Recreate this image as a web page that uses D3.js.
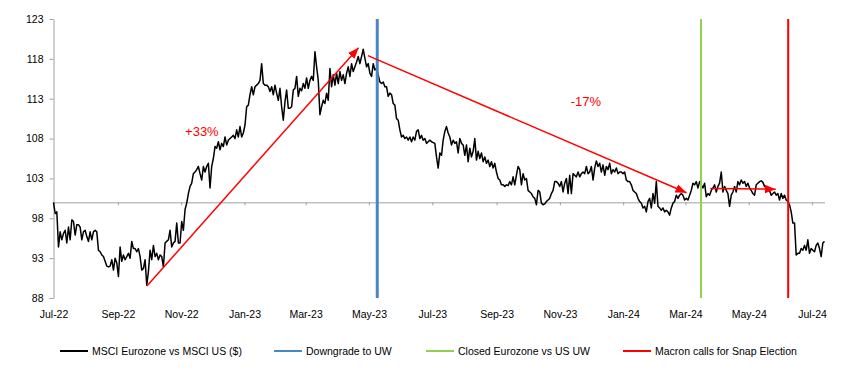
<!DOCTYPE html>
<html><head><meta charset="utf-8">
<script src="https://cdn.jsdelivr.net/npm/d3@7"></script>
<style>
body{margin:0;background:#fff;}
svg{display:block;font-family:"Liberation Sans",Arial,Helvetica,sans-serif;}
</style>
</head><body>
<svg id="chart" width="852" height="381"></svg>
<script>
// ---------------- DATA ----------------
const seriesName = "MSCI Eurozone vs MSCI US ($)";
const startDate = "2022-07-01";
const endDate = "2024-07-13";
const values = [
100.0,98.6,98.8,94.4,96.3,95.3,96.1,96.5,94.9,96.9,
95.3,97.8,97.6,95.9,97.2,97.2,96.9,95.3,96.3,96.5,
95.7,95.1,96.3,95.3,96.3,96.5,96.3,94.0,93.8,93.4,
93.2,92.6,92.0,91.9,92.0,92.8,91.5,93.0,92.4,90.7,
94.4,92.6,93.4,92.8,93.2,93.6,93.0,95.1,94.2,94.2,
93.8,94.2,93.2,91.5,91.7,92.8,89.6,91.3,94.0,92.8,
94.6,93.2,93.6,92.8,93.4,93.2,91.9,94.9,95.1,95.3,
96.5,94.4,94.9,95.1,97.4,94.9,94.9,97.6,96.5,99.1,
99.9,101.1,102.0,102.4,103.6,103.8,104.1,104.5,103.6,102.8,
104.5,103.8,104.5,104.9,101.8,104.5,105.5,107.0,106.8,107.6,
106.6,107.4,107.0,108.2,107.2,107.8,108.0,108.2,108.4,108.0,
109.1,108.2,109.5,108.2,108.7,109.7,112.0,112.2,113.5,114.5,
113.5,114.5,114.7,114.9,115.3,117.4,114.9,114.7,114.7,114.5,
113.9,114.5,113.5,114.7,113.7,112.8,114.3,112.0,110.3,112.6,
114.1,111.8,111.8,112.0,114.1,114.3,115.8,113.3,114.3,
114.0,114.9,114.3,115.6,114.3,115.3,115.8,115.3,118.9,117.0,
115.3,111.0,112.0,112.8,112.4,113.7,112.8,116.8,114.5,116.0,
114.7,116.2,114.9,116.4,115.3,116.0,114.9,116.2,117.0,115.8,
117.4,116.4,117.0,117.6,118.3,117.4,118.3,119.2,118.1,117.0,
117.4,116.2,115.8,117.4,116.6,116.8,116.0,115.1,114.9,115.1,
114.5,114.5,113.3,113.7,113.5,112.4,112.2,110.5,110.3,109.1,
108.2,108.4,108.0,108.2,107.8,108.2,107.6,108.2,107.8,108.9,
109.1,108.0,108.4,107.8,108.0,
107.4,107.6,107.8,107.6,107.5,107.4,105.7,104.3,106.2,105.9,
107.8,108.9,109.5,108.7,108.2,107.2,107.8,107.4,107.6,106.2,
108.0,107.4,107.2,105.9,107.2,105.1,106.8,105.7,106.4,108.0,
105.3,106.4,105.5,106.2,105.1,105.7,104.9,105.3,104.5,105.1,
104.3,104.9,103.8,103.0,102.8,102.2,102.2,102.0,102.2,102.1,
102.6,102.2,103.2,102.2,103.4,104.5,104.1,102.2,103.6,102.8,
103.0,101.5,101.3,101.1,100.7,100.5,99.7,101.5,101.3,99.9,
99.7,99.8,100.1,100.3,100.5,101.1,101.5,102.6,
102.6,102.4,102.0,102.6,101.3,102.4,103.0,101.1,103.4,101.1,
103.6,103.4,103.2,103.8,103.2,103.6,103.8,103.6,104.5,103.6,
103.8,104.5,102.8,104.3,105.2,104.5,104.9,103.8,104.7,103.4,
104.5,104.1,104.9,103.6,104.1,103.8,104.3,103.6,103.8,103.8,
103.6,103.8,102.8,102.6,102.6,102.2,101.5,101.3,101.1,100.5,
100.1,99.9,99.3,99.5,98.8,100.1,100.5,99.3,101.1,99.9,
102.6,99.5,99.3,99.0,99.3,98.8,99.0,98.8,98.4,99.3,
99.9,100.1,100.9,100.5,100.9,101.1,100.9,100.3,100.5,
100.3,100.9,101.5,102.4,102.2,102.6,101.8,102.6,102.2,101.8,
102.4,100.7,101.1,100.9,101.5,101.8,102.2,101.3,102.0,102.4,
103.8,101.3,102.0,101.5,101.1,99.5,100.9,101.3,102.0,101.3,
102.6,102.2,102.8,102.4,102.6,102.0,102.4,101.8,101.5,101.1,
100.9,102.2,102.4,102.6,102.7,102.5,102.0,101.8,101.8,101.5,
100.9,101.1,101.3,100.9,101.1,100.3,101.1,100.5,100.9,100.3,
100.1,99.7,98.8,97.4,97.4,93.4,93.6,93.6,94.2,94.0,
94.6,94.0,95.3,93.6,94.2,94.0,93.8,94.6,94.9,94.2,
93.2,94.9,95.1
];
const baseValue = 100;
const yTicks = [88, 93, 98, 103, 108, 113, 118, 123];
const xTickDates = ["2022-07-01","2022-09-01","2022-11-01","2023-01-01","2023-03-01","2023-05-01",
                    "2023-07-01","2023-09-01","2023-11-01","2024-01-01","2024-03-01","2024-05-01","2024-07-01"];
const eventLabels = ["Downgrade to UW", "Closed Eurozone vs US UW", "Macron calls for Snap Election"];
const eventDates = ["2023-05-09", "2024-03-16", "2024-06-08"];
const arrowStartDates = ["2022-09-29", "2023-04-30", "2024-03-25"];
const arrowStartValues = [89.5, 118.4, 101.75];
const arrowEndDates = ["2023-04-21", "2024-03-02", "2024-05-27"];
const arrowEndValues = [119.4, 101.2, 101.65];
const noteLabels = ["+33%", "-17%"];
const noteDates = ["2022-11-21", "2023-11-26"];
const noteValues = [108.9, 112.6];

// ---------------- DRAW ----------------
const parse = d3.timeParse("%Y-%m-%d");
const svg = d3.select("#chart");
const t0 = parse(startDate), t1 = parse(endDate);
const dates = values.map((v, i) => new Date(+t0 + i * (t1 - t0) / (values.length - 1)));
const series = values.map((v, i) => ({date: dates[i], value: v}));

const x = d3.scaleTime().domain([t0, t1]).range([53.5, 824.5]);
const y = d3.scaleLinear().domain([88, 123]).range([298, 19]);

const axisColor = "#a0a0a0";
const eventColors = ["#4a86c1", "#92d050", "#ff0000"];
const eventWidths = [3, 2, 2];
const red = "#ff0000";

// Y axis
const yAxis = svg.append("g").attr("transform", "translate(53.5,0)")
  .call(d3.axisLeft(y).tickValues(yTicks).tickSize(4).tickSizeOuter(0).tickPadding(6).tickFormat(d3.format("d")));
yAxis.select(".domain").attr("stroke", axisColor);
yAxis.selectAll(".tick line").attr("stroke", axisColor);
yAxis.selectAll("text").attr("font-size", 10.5).attr("fill", "#000").attr("font-family", "Liberation Sans, Arial, sans-serif");

// X axis line at base value
const xLine = svg.append("g").attr("transform", `translate(0,${y(baseValue)})`)
  .call(d3.axisBottom(x).tickValues(xTickDates.map(parse)).tickSize(3).tickSizeOuter(0).tickFormat(""));
xLine.select(".domain").attr("stroke", axisColor);
xLine.selectAll(".tick line").attr("stroke", axisColor);

// X labels at bottom
const xLab = svg.append("g").attr("transform", `translate(0,${y(88)})`)
  .call(d3.axisBottom(x).tickValues(xTickDates.map(parse)).tickSize(0).tickPadding(13).tickFormat(d3.timeFormat("%b-%y")));
xLab.select(".domain").remove();
xLab.selectAll("text").attr("font-size", 10.5).attr("fill", "#000").attr("font-family", "Liberation Sans, Arial, sans-serif");

// Series line
svg.append("path").datum(series)
  .attr("fill", "none").attr("stroke", "#000").attr("stroke-width", 1.5).attr("stroke-linejoin", "round")
  .attr("d", d3.line().x(d => x(d.date)).y(d => y(d.value)));

// Event vertical lines
svg.selectAll(".event").data(eventDates).enter().append("line")
  .attr("x1", d => x(parse(d))).attr("x2", d => x(parse(d)))
  .attr("y1", y(123)).attr("y2", y(88))
  .attr("stroke", (d, i) => eventColors[i]).attr("stroke-width", (d, i) => eventWidths[i]);

// Arrow marker
const defs = svg.append("defs");
defs.append("marker").attr("id", "arrowhead")
  .attr("viewBox", "0 0 10 8").attr("refX", 10).attr("refY", 4)
  .attr("markerWidth", 11).attr("markerHeight", 9).attr("markerUnits", "userSpaceOnUse")
  .attr("orient", "auto")
  .append("path").attr("d", "M0,0 L10,4 L0,8 Z").attr("fill", red);

svg.selectAll(".arrow").data(arrowStartDates).enter().append("line")
  .attr("x1", (d, i) => x(parse(d))).attr("y1", (d, i) => y(arrowStartValues[i]))
  .attr("x2", (d, i) => x(parse(arrowEndDates[i]))).attr("y2", (d, i) => y(arrowEndValues[i]))
  .attr("stroke", red).attr("stroke-width", 1.5).attr("marker-end", "url(#arrowhead)");

// Notes
svg.selectAll(".note").data(noteLabels).enter().append("text")
  .attr("x", (d, i) => x(parse(noteDates[i]))).attr("y", (d, i) => y(noteValues[i]))
  .attr("dy", "0.35em").attr("text-anchor", "middle")
  .attr("font-size", 13).attr("fill", red).text(d => d);

// Legend
const legendLabels = [seriesName].concat(eventLabels);
const legendColors = ["#000"].concat(eventColors);
const legendX = [60, 274, 426, 623];
const lg = svg.append("g");
legendLabels.forEach((lab, i) => {
  const g = lg.append("g").attr("transform", `translate(${legendX[i]},351)`);
  g.append("line").attr("x1", 0).attr("x2", 28).attr("y1", 0).attr("y2", 0)
    .attr("stroke", legendColors[i]).attr("stroke-width", 2);
  g.append("text").attr("x", 32).attr("y", 0).attr("dy", "0.35em")
    .attr("font-size", 10.5).attr("fill", "#000").text(lab);
});
</script>
</body></html>
